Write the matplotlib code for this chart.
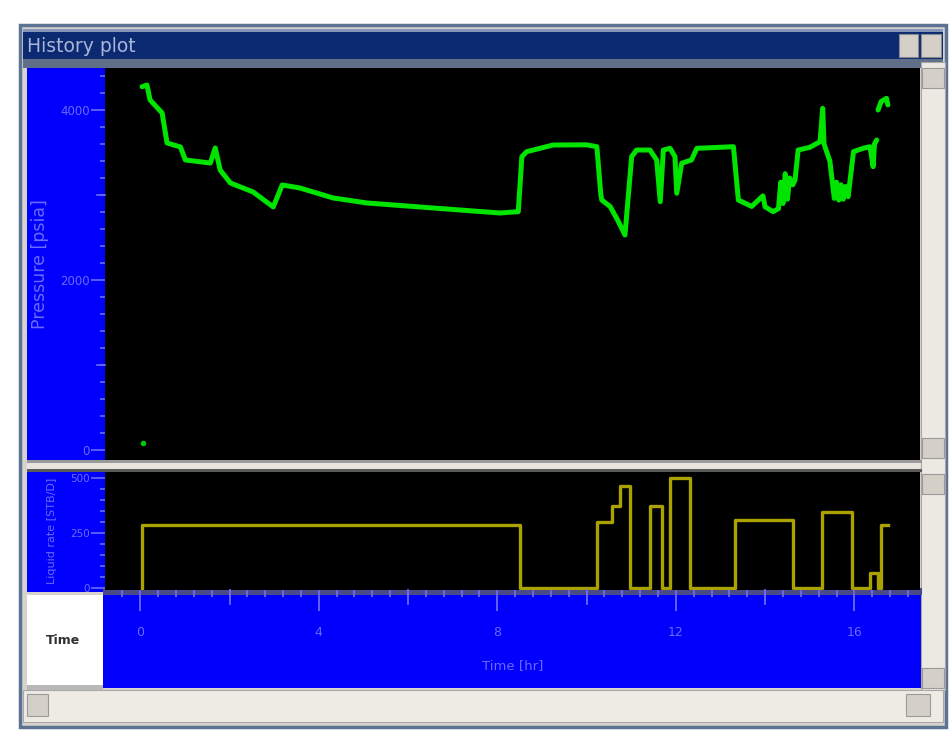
import matplotlib
matplotlib.use('Agg')
import matplotlib.pyplot as plt
import numpy as np
from matplotlib.patches import Rectangle
import matplotlib.transforms as mtransforms

# ---------------- data ----------------
pressure_time = [0.04, 0.15, 0.22, 0.49, 0.60, 0.90, 1.01, 1.57, 1.68, 1.79, 2.02, 2.53, 2.98,
                 3.18, 3.58, 4.32, 5.08, 6.56, 8.06, 8.47, 8.55, 8.66, 9.25, 10.0, 10.23,
                 10.32, 10.34, 10.53, 10.70, 10.86, 11.01, 11.12, 11.42, 11.57, 11.65, 11.72,
                 11.87, 11.98, 12.02, 12.13, 12.35, 12.47, 13.29, 13.40, 13.70, 13.95, 14.0,
                 14.18, 14.30, 14.35, 14.40, 14.45, 14.50, 14.55, 14.62, 14.67, 14.74, 15.0,
                 15.23, 15.29, 15.32, 15.45, 15.55, 15.60, 15.65, 15.70, 15.75, 15.80, 15.86,
                 15.98, 16.20, 16.35, 16.42, 16.45, 16.50, np.nan, 16.53, 16.60, 16.72, 16.75]
pressure_psi = [4274, 4294, 4118, 3965, 3612, 3565, 3412, 3376, 3553, 3294, 3141, 3035, 2859,
                3118, 3082, 2965, 2906, 2847, 2788, 2804, 3451, 3510, 3588, 3590, 3568,
                3000, 2941, 2863, 2700, 2529, 3451, 3529, 3529, 3412, 2921, 3529,
                3549, 3451, 3020, 3373, 3412, 3549, 3568, 2941, 2865, 2990, 2860,
                2804, 2840, 3150, 2900, 3250, 2950, 3200, 3120, 3176, 3529, 3560,
                3627, 4020, 3600, 3400, 2960, 3150, 2940, 3120, 2950, 3100, 2980,
                3510, 3550, 3568, 3333, 3600, 3647, np.nan, 4000, 4100, 4137, 4060]
initial_time = [0.07]
initial_psi = [82]

rate_time = [0.04, 0.05, 8.51, 10.24, 10.57, 10.75, 10.97, 11.42, 11.69, 11.87, 12.32,
             13.33, 14.62, 15.27, 15.95, 16.35, 16.52, 16.60, 16.75]
rate_value = [0, 286, 0, 300, 373, 464, 0, 373, 0, 500, 0,
              309, 0, 345, 0, 68, 0, 286, 286]

p_ticks = [0, 2000, 4000]
p_mid_ticks = [1000, 3000]
r_ticks = [0, 250, 500]
t_ticks = [0, 4, 8, 12, 16]
t_mid_ticks = [2, 6, 10, 14]

# ---------------- figure / chrome ----------------
W, H = 949, 731
fig = plt.figure(figsize=(W / 100, H / 100), dpi=100)
fig.patch.set_facecolor('white')


def R(x0, y0, x1, y1):
    return [x0 / W, 1 - y1 / H, (x1 - x0) / W, (y1 - y0) / H]


def box(x0, y0, x1, y1, fc, ec='none', lw=0, z=-5):
    fig.add_artist(Rectangle((x0 / W, 1 - y1 / H), (x1 - x0) / W, (y1 - y0) / H,
                             transform=fig.transFigure, facecolor=fc, edgecolor=ec,
                             linewidth=lw, zorder=z))


BLUE = '#0000fc'
TXT = '#6a6aff'

box(20, 25, 946, 727, '#d6d3ce', ec='#5d7394', lw=2.5, z=-10)
box(23, 29, 943, 62, '#0c2a72', z=-9)
box(23, 29, 943, 32, '#8596b8', z=-8)
box(23, 59, 943, 68, '#5f6f88', z=-8)
box(899, 34, 918, 57, '#d4d0c8', ec='#8a8a8a', lw=0.8, z=-7)
box(921, 34, 941, 57, '#d4d0c8', ec='#8a8a8a', lw=0.8, z=-7)
fig.text(27 / W, 1 - 46 / H, 'History plot', color='#a9b6d8', fontsize=13.5, va='center', ha='left')

box(27, 68, 105, 460, BLUE)
box(27, 470, 105, 592, BLUE)
box(27, 460, 922, 472, '#e6e4dc')
box(27, 460, 922, 463, '#9a9a9a', z=-4)
box(27, 469, 922, 472, '#5a5a5a', z=-4)
box(103, 590, 922, 688, BLUE)
box(103, 588, 922, 595, '#4a4a88', z=-4)
box(27, 595, 103, 685, 'white')
box(27, 685, 103, 690, '#b8b8b8', z=-4)
fig.text(63 / W, 1 - 640 / H, 'Time', color='#303030', fontsize=9, fontweight='bold',
         ha='center', va='center')

# right scrollbar
box(921, 62, 945, 690, '#ebe9e1', ec='#a8a8a8', lw=0.8)
box(922, 68, 944, 88, '#d4d0c8', ec='#9a9a9a', lw=0.8, z=-4)
box(922, 438, 944, 458, '#d4d0c8', ec='#9a9a9a', lw=0.8, z=-4)
box(922, 474, 944, 494, '#d4d0c8', ec='#9a9a9a', lw=0.8, z=-4)
box(922, 668, 944, 688, '#d4d0c8', ec='#9a9a9a', lw=0.8, z=-4)
# bottom scrollbar
box(23, 690, 943, 722, '#edebe3', ec='#a8a8a8', lw=0.8)
box(27, 694, 48, 716, '#d4d0c8', ec='#9a9a9a', lw=0.8, z=-4)
box(906, 694, 930, 716, '#d4d0c8', ec='#9a9a9a', lw=0.8, z=-4)

XMIN, XMAX = -0.79, 17.47

# ---------------- pressure axes ----------------
ax1 = fig.add_axes(R(105, 68, 920, 460))
ax1.set_facecolor('black')
ax1.plot(pressure_time, pressure_psi, color='#00e400', lw=3.6, solid_joinstyle='round',
         solid_capstyle='round')
ax1.plot(initial_time, initial_psi, 'o', color='#00c800', ms=3)
ax1.set_xlim(XMIN, XMAX)
ax1.set_ylim(-118, 4494)
for s in ax1.spines.values():
    s.set_visible(False)
ax1.set_xticks([])
ax1.set_yticks(p_ticks)
ax1.set_yticks(np.arange(0, 4401, 200), minor=True)
ax1.tick_params(axis='y', which='major', direction='out', length=10, width=1.2,
                color=TXT, labelcolor=TXT, labelsize=8.5, pad=1)
ax1.tick_params(axis='y', which='minor', direction='out', length=3.5, width=1.2, color=TXT)
tr1 = mtransforms.blended_transform_factory(ax1.transAxes, ax1.transData)
for v in p_mid_ticks:
    ax1.plot([0, -8 / 815], [v, v], color=TXT, lw=1.2, transform=tr1, clip_on=False)
ax1.set_ylabel('Pressure [psia]', color=TXT, fontsize=12.5, labelpad=8)

# ---------------- rate axes ----------------
ax2 = fig.add_axes(R(105, 472, 920, 590))
ax2.set_facecolor('black')
ax2.step(rate_time, rate_value, where='post', color='#aaa200', lw=2.4)
ax2.set_xlim(XMIN, XMAX)
ax2.set_ylim(-9, 527)
for s in ax2.spines.values():
    s.set_visible(False)
ax2.set_yticks(r_ticks)
ax2.set_yticks(np.arange(0, 501, 50), minor=True)
ax2.tick_params(axis='y', which='major', direction='out', length=10, width=1.2,
                color=TXT, labelcolor=TXT, labelsize=7.5, pad=1)
ax2.tick_params(axis='y', which='minor', direction='out', length=3.5, width=1.2, color=TXT)
ax2.set_ylabel('Liquid rate [STB/D]', color=TXT, fontsize=8, labelpad=9)

ax2.set_xticks(t_ticks)
ax2.set_xticks(np.arange(-0.4, 17.5, 0.4), minor=True)
ax2.tick_params(axis='x', which='major', direction='out', length=15, width=1.3,
                color=TXT, labelcolor=TXT, labelsize=9, pad=11)
ax2.tick_params(axis='x', which='minor', direction='out', length=5, width=1.3, color=TXT)
tr2 = mtransforms.blended_transform_factory(ax2.transData, ax2.transAxes)
for v in t_mid_ticks:
    ax2.plot([v, v], [0, -14 / 118], color=TXT, lw=1.3, transform=tr2, clip_on=False)
ax2.set_xlabel('Time [hr]', color=TXT, fontsize=9.5, labelpad=14)

fig.savefig('out.png', dpi=100, facecolor='white')
